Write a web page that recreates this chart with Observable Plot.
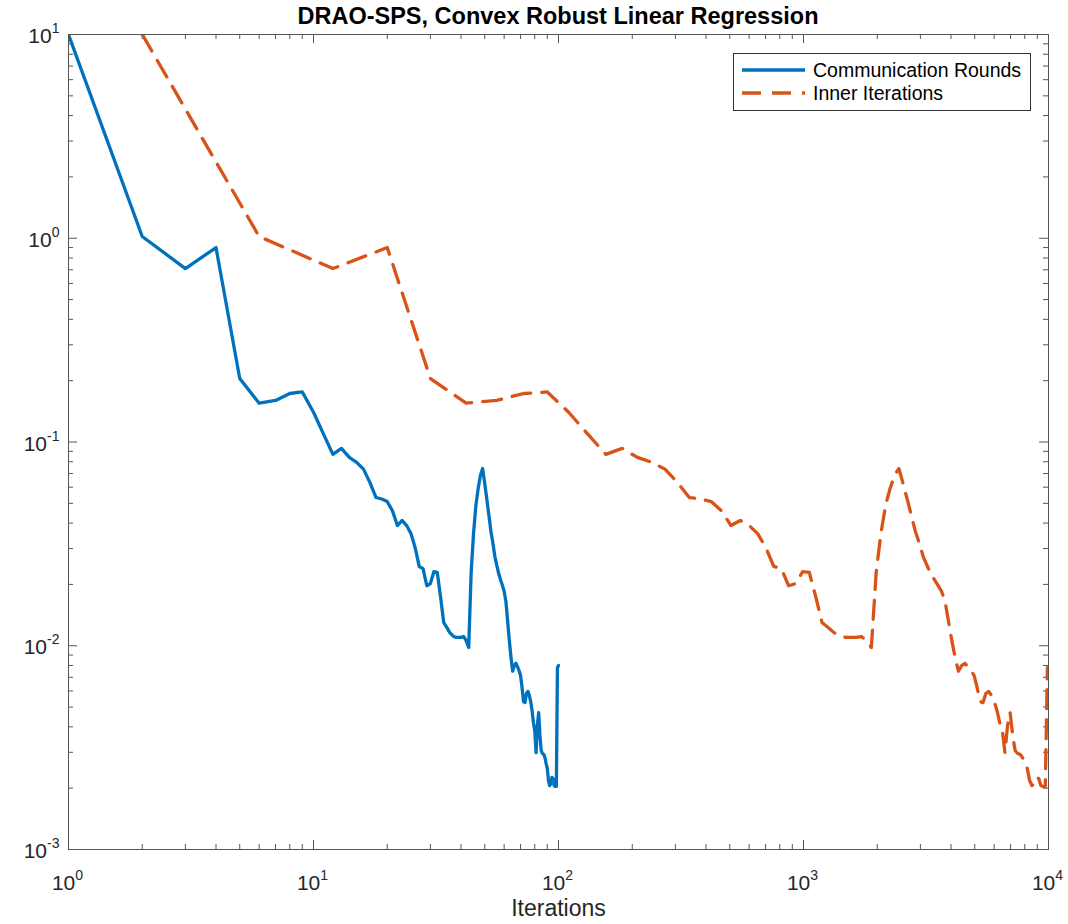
<!DOCTYPE html>
<html>
<head>
<meta charset="utf-8">
<script src="https://cdn.jsdelivr.net/npm/d3@7"></script>
<script src="https://cdn.jsdelivr.net/npm/@observablehq/plot@0.6"></script>
<style>
  html, body { margin: 0; padding: 0; background: #fff; }
  #wrap { position: relative; width: 1068px; height: 924px; font-family: "Liberation Sans", Arial, Helvetica, sans-serif; }
  #title { height: 33px; line-height: 33px; padding-left: 48px; text-align: center; font-weight: bold; font-size: 23.5px; color: #000; }
  #legend { position: absolute; left: 733px; top: 53px; width: 296px; height: 56px; border: 1px solid #333; background: #fff; font-size: 19.5px; color: #000; }
  .row { position: absolute; left: 8px; height: 22px; display: flex; align-items: center; }
  .row span { margin-left: 8px; white-space: nowrap; }
</style>
</head>
<body>
<div id="wrap">
  <div id="title"></div>
  <div id="chart"></div>
  <div id="legend"></div>
</div>
<script>
// ---- data ----
const titleText = "DRAO-SPS, Convex Robust Linear Regression";
const xLabel = "Iterations";
const seriesNames = ["Communication Rounds", "Inner Iterations"];
const seriesColors = ["#0072BD", "#D95319"];

// x positions of the two series
const rounds = [1,2,3,4,5,6,7,8,9,10,11,12,13,14,15,16,17,18,19,20,
  21,22,23,24,25,26,27,28,29,30,31,32,33,34,35,36,37,38,39,40,
  41,42,43,44,45,46,47,48,49,50,51,52,53,54,55,56,57,58,59,60,
  61,62,63,64,65,66,67,68,69,70,71,72,73,74,75,76,77,78,79,80,
  81,82,83,84,85,86,87,88,89,90,91,92,93,94,95,96,97,98,99,100];
const innerIters = [2,6,12,20,30,42,56,72,90,110,132,156,182,210,240,272,306,342,380,420,
  462,506,552,600,650,702,756,812,870,930,992,1056,1122,1190,1260,1332,1406,1482,1560,1640,
  1722,1806,1892,1980,2070,2162,2256,2352,2450,2550,2652,2756,2862,2970,3080,3192,3306,3422,3540,3660,
  3782,3906,4032,4160,4290,4422,4556,4692,4830,4970,5112,5256,5402,5550,5700,5852,6006,6162,6320,6480,
  6642,6806,6972,7140,7310,7482,7656,7832,8010,8190,8372,8556,8742,8930,9120,9312,9506,9702,9900,10100];

// residual values (same sequence for both series)
const residual = [10, 1.02, 0.71, 0.90, 0.205, 0.155, 0.16, 0.173, 0.176, 0.14,
  0.109, 0.087, 0.093, 0.084, 0.0795, 0.0736, 0.0632, 0.0534, 0.0525, 0.051,
  0.046, 0.0389, 0.0412, 0.0389, 0.0355, 0.0303, 0.0245, 0.0239, 0.0197, 0.0202,
  0.0231, 0.0229, 0.0174, 0.0130, 0.0123, 0.0116, 0.0112, 0.0110, 0.0110, 0.0110,
  0.0111, 0.0106, 0.0098, 0.0229, 0.0356, 0.0488, 0.0591, 0.0685, 0.0741, 0.0625,
  0.0522, 0.0436, 0.0364, 0.0318, 0.0274, 0.0248, 0.0226, 0.0211, 0.0198, 0.0185,
  0.0165, 0.0132, 0.0106, 0.00875, 0.0075, 0.0080, 0.0082, 0.0079, 0.00756, 0.00714,
  0.00624, 0.00532, 0.00526, 0.00583, 0.00597, 0.00571, 0.00532, 0.00481, 0.0042, 0.00384,
  0.00299, 0.00406, 0.0047, 0.00363, 0.00306, 0.00296, 0.00293, 0.00283, 0.00265, 0.0025,
  0.00218, 0.00206, 0.0021, 0.00226, 0.00223, 0.00206, 0.00204, 0.00204, 0.0078, 0.0080];

// ticks
const xMajor = [1, 10, 100, 1000, 10000];
const xExp = ["0", "1", "2", "3", "4"];
const xMinor = [2,3,4,5,6,7,8,9,20,30,40,50,60,70,80,90,200,300,400,500,600,700,800,900,2000,3000,4000,5000,6000,7000,8000,9000];
const yMajor = [0.001, 0.01, 0.1, 1, 10];
const yExp = ["-3", "-2", "-1", "0", "1"];
const yMinor = [0.002,0.003,0.004,0.005,0.006,0.007,0.008,0.009,0.02,0.03,0.04,0.05,0.06,0.07,0.08,0.09,
  0.2,0.3,0.4,0.5,0.6,0.7,0.8,0.9,2,3,4,5,6,7,8,9];

// ---- build ----
const roundsData = rounds.map((x, i) => ({x, y: residual[i]}));
const innerData = innerIters.map((x, i) => ({x, y: residual[i]}));

const axisColor = "#555";
const PW = 980, PH = 815; // frame size (width - margins, height - margins)
const majorLen = 9, minorLen = 5;

document.getElementById("title").textContent = titleText;

const chart = Plot.plot({
  width: 1068,
  height: 891,
  marginTop: 1,
  marginRight: 20,
  marginBottom: 75,
  marginLeft: 68,
  style: {fontFamily: '"Liberation Sans", Arial, Helvetica, sans-serif', fontSize: "21px", color: "#262626", background: "transparent", overflow: "visible"},
  x: {type: "log", domain: [1, 10000]},
  y: {type: "log", domain: [0.001, 10]},
  marks: [
    // inward ticks on all four sides
    Plot.ruleX(xMinor, {x: d => d, insetTop: PH - minorLen, stroke: axisColor}),
    Plot.ruleX(xMinor, {x: d => d, insetBottom: PH - minorLen, stroke: axisColor}),
    Plot.ruleX(xMajor, {x: d => d, insetTop: PH - majorLen, stroke: axisColor}),
    Plot.ruleX(xMajor, {x: d => d, insetBottom: PH - majorLen, stroke: axisColor}),
    Plot.ruleY(yMinor, {y: d => d, insetRight: PW - minorLen, stroke: axisColor}),
    Plot.ruleY(yMinor, {y: d => d, insetLeft: PW - minorLen, stroke: axisColor}),
    Plot.ruleY(yMajor, {y: d => d, insetRight: PW - majorLen, stroke: axisColor}),
    Plot.ruleY(yMajor, {y: d => d, insetLeft: PW - majorLen, stroke: axisColor}),
    Plot.axisX({ticks: xMajor, tickSize: 0, tickPadding: 26, label: null, dx: -1,
      tickFormat: d => "10^" + xExp[xMajor.indexOf(d)]}),
    Plot.axisY({ticks: yMajor, tickSize: 0, tickPadding: 9, label: null, dy: 2,
      tickFormat: d => "10^" + yExp[yMajor.indexOf(d)]}),
    Plot.line(innerData, {x: "x", y: "y", stroke: seriesColors[1], strokeWidth: 3.3,
      strokeDasharray: "19,11", strokeLinejoin: "round", clip: true}),
    Plot.line(roundsData, {x: "x", y: "y", stroke: seriesColors[0], strokeWidth: 3.3,
      strokeLinejoin: "round", clip: true}),
    Plot.frame({stroke: axisColor, strokeWidth: 1}),
    Plot.text([xLabel], {text: d => d, frameAnchor: "bottom", lineAnchor: "middle", dy: 59, fontSize: 23, fill: "#262626"})
  ]
});

// superscript exponents on tick labels
chart.querySelectorAll("text").forEach(t => {
  const s = t.textContent;
  const i = s.indexOf("^");
  if (i < 0) return;
  t.textContent = s.slice(0, i);
  const ts = document.createElementNS("http://www.w3.org/2000/svg", "tspan");
  ts.setAttribute("dy", "-10");
  ts.setAttribute("font-size", "14");
  ts.textContent = s.slice(i + 1);
  t.appendChild(ts);
});

document.getElementById("chart").appendChild(chart);

// legend
const legend = document.getElementById("legend");
const rowTops = [5, 28];
seriesNames.forEach((name, i) => {
  const row = document.createElement("div");
  row.className = "row";
  row.style.top = rowTops[i] + "px";
  const dash = i === 1 ? ' stroke-dasharray="19,11"' : "";
  row.innerHTML = `<svg width="63" height="22"><line x1="0" x2="63" y1="11" y2="11" stroke="${seriesColors[i]}" stroke-width="3.3"${dash}/></svg><span>${name}</span>`;
  legend.appendChild(row);
});
</script>
</body>
</html>
